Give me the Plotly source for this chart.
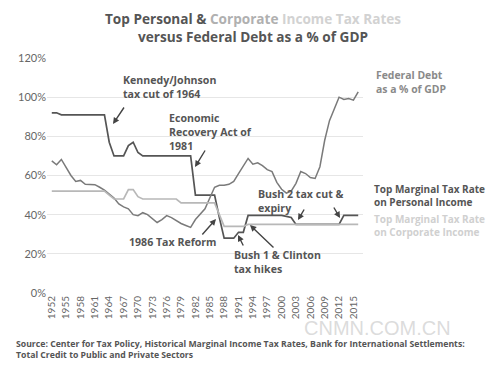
import plotly.graph_objects as go

years = list(range(1952, 2017))

personal_rate = ([92, 92] + [91] * 10 + [77, 70, 70, 70, 75.25, 77, 71.75] + [70] * 11
                 + [50] * 5 + [38.5, 28, 28, 28, 31, 31] + [39.6] * 8 + [39.1, 38.6]
                 + [35] * 10 + [39.6] * 4)

corporate_rate = ([52] * 12 + [50, 48, 48, 48, 52.8, 52.8, 49.2] + [48] * 8 + [46] * 8
                  + [40] + [34] * 5 + [35] * 24)

federal_debt = [67.5, 65.5, 68.2, 64, 60, 57, 57.5, 55.5, 55.3, 55.3,
                54, 52.5, 50.5, 48.5, 45.5, 44, 43, 40, 39.5, 41,
                40, 38, 36, 37.5, 39.5, 38.5, 37, 35.5, 34.5, 33.5,
                37.5, 40, 43, 48.5, 54, 55, 55, 55.5, 57, 61,
                65, 68.7, 65.8, 66.5, 65, 63, 62, 56.5, 53, 51,
                52, 56, 62, 61, 59, 58.5, 64.5, 78, 88, 94,
                100, 98.8, 99.3, 98.5, 102.7]

x_ticks = list(range(1952, 2016, 3))
y_ticks = [0, 20, 40, 60, 80, 100, 120]
y_tick_labels = ["0%", "20%", "40%", "60%", "80%", "100%", "120%"]

# page body has an 8px margin; layout is computed in screen pixels and shifted
OFF = 8
W, H = 500 - OFF, 369 - OFF
PLOT_L, PLOT_R, PLOT_T, PLOT_B = 47, 363, 58, 293  # screen pixels
L, R, T, B = PLOT_L - OFF, W - (PLOT_R - OFF), PLOT_T - OFF, H - (PLOT_B - OFF)
PW, PH = W - L - R, H - T - B


def px(xs):
    return (xs - OFF - L) / PW


def py(ys):
    return (H - B - (ys - OFF)) / PH


DARK = "#555555"
DEBT = "#7a7a7a"
CORP = "#b8b8b8"
FONT = "Open Sans"
TICKFONT = "Lato"

fig = go.Figure()
fig.add_trace(go.Scatter(x=years, y=personal_rate, mode="lines",
                         line=dict(color=DARK, width=1.7), hoverinfo="skip"))
fig.add_trace(go.Scatter(x=years, y=federal_debt, mode="lines",
                         line=dict(color=DEBT, width=1.5), hoverinfo="skip"))
fig.add_trace(go.Scatter(x=years, y=corporate_rate, mode="lines",
                         line=dict(color=CORP, width=1.7), hoverinfo="skip"))

ann = []

# title
ann.append(dict(
    x=px(253), y=py(27.5), xref="paper", yref="paper", xanchor="center", yanchor="middle",
    showarrow=False, align="center",
    text=("<b>Top Personal & <span style='color:#b0b0b0'>Corporate</span> "
          "<span style='color:#d2d2d2'>Income Tax Rates</span><br>"
          "versus Federal Debt as a % of GDP</b>"),
    font=dict(family=FONT, size=13.6, color=DARK)))


def text_ann(x, y, text, color=DARK, size=10.6):
    ann.append(dict(x=px(x), y=py(y), xref="paper", yref="paper", xanchor="left",
                    yanchor="middle", showarrow=False, align="left", text=text,
                    font=dict(family=FONT, size=size, color=color)))


def arrow(x0, y0, x1, y1):
    ann.append(dict(x=px(x1), y=py(y1), xref="paper", yref="paper", text="",
                    showarrow=True, ax=x0 - x1, ay=y0 - y1, axref="pixel", ayref="pixel",
                    arrowhead=2, arrowsize=0.9, arrowwidth=1.4, arrowcolor="#444444",
                    standoff=0, startstandoff=0))


text_ann(121, 87, "<b>Kennedy/Johnson<br>tax cut of 1964</b>")
arrow(125, 106, 113, 124)
text_ann(167, 132, "<b>Economic<br>Recovery Act of<br>1981</b>")
arrow(206, 149, 195, 167)
text_ann(127, 241.5, "<b>1986 Tax Reform</b>")
arrow(201, 236, 216, 219)
text_ann(232, 262, "<b>Bush 1 & Clinton<br>tax hikes</b>")
arrow(244, 247, 238, 235)
arrow(275, 249, 250, 225)
text_ann(256, 201.5, "<b>Bush 2 tax cut &<br>expiry</b>")
arrow(305, 208, 298, 220)
arrow(333, 206, 340, 218)

text_ann(374, 82, "<b>Federal Debt<br>as a % of GDP</b>", color="#8a8a8a", size=10.4)
text_ann(372, 195, "<b>Top Marginal Tax Rate<br>on Personal Income</b>", color=DARK, size=10)
text_ann(372, 225.5, "<b>Top Marginal Tax Rate<br>on Corporate Income</b>", color="#d0d0d0", size=10)

# watermark
ann.append(dict(x=px(377), y=py(327.5), xref="paper", yref="paper", xanchor="center",
                yanchor="middle", showarrow=False, text="CNMN.COM.CN",
                font=dict(family="Liberation Sans", size=20, color="rgba(190,190,190,0.55)")))

# source
ann.append(dict(x=px(14), y=py(349), xref="paper", yref="paper", xanchor="left",
                yanchor="middle", showarrow=False, align="left",
                text=("<b>Source: Center for Tax Policy, Historical Marginal Income Tax Rates, "
                      "Bank for International Settlements:<br>Total Credit to Public and Private Sectors</b>"),
                font=dict(family=FONT, size=8.7, color=DARK)))

fig.update_layout(
    width=W, height=H,
    margin=dict(l=L, r=R, t=T, b=B, autoexpand=False),
    paper_bgcolor="white", plot_bgcolor="white",
    showlegend=False,
    annotations=ann,
    font=dict(family=TICKFONT, color="#666666"),
    xaxis=dict(range=[1951, 2017], tickmode="array", tickvals=x_ticks,
               ticktext=[str(v) for v in x_ticks], tickangle=-90, automargin=False,
               showgrid=False, zeroline=False, showline=False, ticks="",
               tickfont=dict(family=TICKFONT, size=10, color="#666666")),
    yaxis=dict(range=[0, 120], tickmode="array", tickvals=y_ticks, ticktext=y_tick_labels,
               showgrid=True, gridcolor="#e6e6e6", gridwidth=1, zeroline=False,
               showline=False, ticks="", automargin=False,
               tickfont=dict(family=TICKFONT, size=11, color="#666666")),
)

fig.write_html("out.html")
